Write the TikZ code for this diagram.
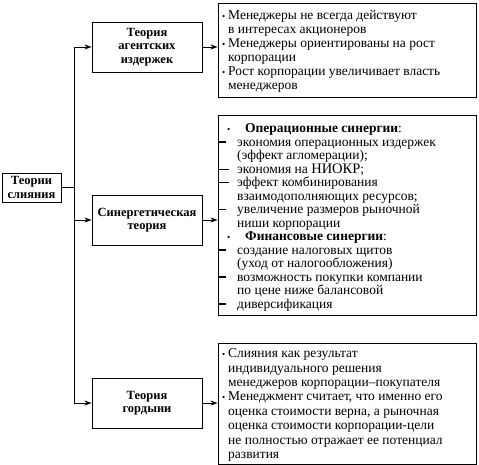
\documentclass[tikz,border=0pt]{standalone}
\usepackage{fontspec}
\setmainfont{Liberation Serif}
\usetikzlibrary{arrows.meta}
\newcommand{\bl}{\makebox[6pt][l]{\raisebox{0.3pt}{\fontsize{9}{9}\selectfont•}}}
\newcommand{\ind}{\hspace*{6pt}}
\newcommand{\bd}{\makebox[18.5pt][l]{\rule[3.3pt]{7.5pt}{1.5pt}}}
\newcommand{\ld}{\makebox[18.5pt][l]{\rule[3.6pt]{10pt}{0.6pt}}}
\newcommand{\dind}{\hspace*{18.5pt}}
\newcommand{\hb}{\hspace*{8.5pt}\makebox[18pt][l]{\raisebox{0.3pt}{\fontsize{9}{9}\selectfont•}}}
\begin{document}
\begin{tikzpicture}[x=1pt,y=-1pt,
  tbox/.style={draw,line width=0.9pt,font=\fontsize{12.5}{13.5}\selectfont\bfseries,align=center,inner sep=0pt},
  rbox/.style={draw,line width=0.9pt,inner sep=0pt,minimum width=258pt},
  txt/.style={anchor=north west,align=left,inner sep=0pt},
  arr/.style={line width=0.8pt,-{Stealth[length=7pt,width=5pt]}},
  ln/.style={line width=0.8pt}]
\useasboundingbox (0,0) rectangle (479,465);
\node[tbox,minimum width=59pt,minimum height=29pt] (lb) at (31.5,187.5) {Теории\\слияния};
\node[tbox,minimum width=110pt,minimum height=50pt] (b1) at (147,47) {Теория\\агентских\\издержек};
\node[tbox,minimum width=110pt,minimum height=50pt] (b2) at (147,220) {Синергетическая\\теория};
\node[tbox,minimum width=110pt,minimum height=50pt] (b3) at (147,403) {Теория\\гордыни};
\node[rbox,minimum height=94pt] (r1) at (347,50) {};
\node[rbox,minimum height=200pt] (r2) at (347,215) {};
\node[rbox,minimum height=121pt] (r3) at (347,403.5) {};
\node[txt,font=\fontsize{13.5}{14}\selectfont] (t1) at (222,10.5) {\bl Менеджеры не всегда действуют\\
\ind в интересах акционеров\\
\bl Менеджеры ориентированы на рост\\
\ind корпорации\\
\bl Рост корпорации увеличивает власть\\
\ind менеджеров};
\node[txt,font=\fontsize{13.5}{13.5}\selectfont] (t2) at (218.5,123.5) {\hb\textbf{Операционные синергии}:\\
\bd экономия операционных издержек\\
\dind (эффект агломерации);\\
\ld экономия на {\fontsize{14.5}{13.5}\selectfont НИОКР};\\
\ld эффект комбинирования\\
\dind взаимодополняющих ресурсов;\\
\bd увеличение размеров рыночной\\
\dind ниши корпорации\\
\hb\textbf{Финансовые синергии}:\\
\bd создание налоговых щитов\\
\dind (уход от налогообложения)\\
\bd возможность покупки компании\\
\dind по цене ниже балансовой\\
\bd диверсификация};
\node[txt,font=\fontsize{13.5}{14.4}\selectfont] (t3) at (222,348.5) {\bl Слияния как результат\\
\ind индивидуального решения\\
\ind менеджеров корпорации–покупателя\\
\bl Менеджмент считает, что именно его\\
\ind оценка стоимости верна, а рыночная\\
\ind оценка стоимости корпорации-цели\\
\ind не полностью отражает ее потенциал\\
\ind развития};
\coordinate (top) at (74,47);
\coordinate (bot) at (74,403);
\draw[ln] (top) -- (bot);
\draw[ln] (lb.east) -- (lb.east -| top);
\draw[arr] (top) -- (b1.west);
\draw[arr] (b2.west -| top) -- (b2.west);
\draw[arr] (bot) -- (b3.west);
\draw[arr] (b1.east) -- (b1.east -| r1.west);
\draw[arr] (b2.east) -- (b2.east -| r2.west);
\draw[arr] (b3.east) -- (b3.east -| r3.west);
\end{tikzpicture}
\end{document}
